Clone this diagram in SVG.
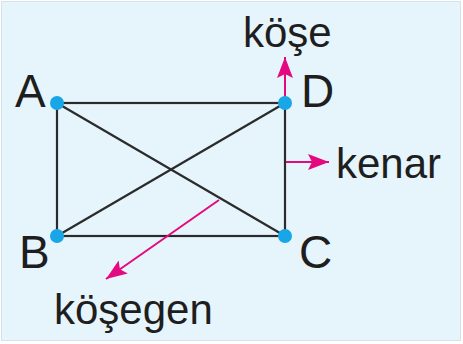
<svg xmlns="http://www.w3.org/2000/svg" width="463" height="344" viewBox="0 0 463 344">
<defs>
<style>
.lbl{font-family:"Liberation Sans",Arial,sans-serif;fill:#1e1e1e}
.edge{stroke:#2b2b2b;stroke-width:2.2;fill:none}
.ptr{stroke:#e4097f;stroke-width:2;fill:none}
.dot{fill:#18a6e6}
</style>
<marker id="ah" viewBox="0 0 21 16" refX="21" refY="8" markerWidth="21" markerHeight="16" markerUnits="userSpaceOnUse" orient="auto">
<path d="M0,0 L21,8 L0,16 L4,8 Z" fill="#e4097f"/>
</marker>
</defs>
<rect x="0" y="0" width="463" height="344" fill="#ffffff"/>
<rect x="1.5" y="1.5" width="459" height="339" fill="#e6f4fc" stroke="#d4e2ea" stroke-width="1"/>
<g id="rect-shape">
<rect x="57" y="103" width="228" height="133" fill="#ffffff" class="edge"/>
</g>
<g id="connectors">
<line x1="57" y1="103" x2="285" y2="236" class="edge"/>
<line x1="57" y1="236" x2="285" y2="103" class="edge"/>
<line x1="285" y1="100" x2="285" y2="57" class="ptr" marker-end="url(#ah)"/>
<line x1="286" y1="162" x2="329" y2="162" class="ptr" marker-end="url(#ah)"/>
<line x1="219" y1="200" x2="106" y2="279" class="ptr" marker-end="url(#ah)"/>
</g>
<g id="A"><circle cx="57" cy="103" r="7" class="dot"/><text x="15" y="107" class="lbl" font-size="46">A</text></g>
<g id="D"><circle cx="285" cy="103" r="7" class="dot"/><text x="301" y="107" class="lbl" font-size="46">D</text></g>
<g id="B"><circle cx="57" cy="236" r="7" class="dot"/><text x="19" y="268" class="lbl" font-size="46">B</text></g>
<g id="C"><circle cx="285" cy="236" r="7" class="dot"/><text x="299" y="268" class="lbl" font-size="46">C</text></g>
<g id="kose"><text x="243" y="47" class="lbl" font-size="42">köşe</text></g>
<g id="kenar"><text x="336" y="178" class="lbl" font-size="42">kenar</text></g>
<g id="kosegen"><text x="54" y="324" class="lbl" font-size="42">köşegen</text></g>
</svg>
